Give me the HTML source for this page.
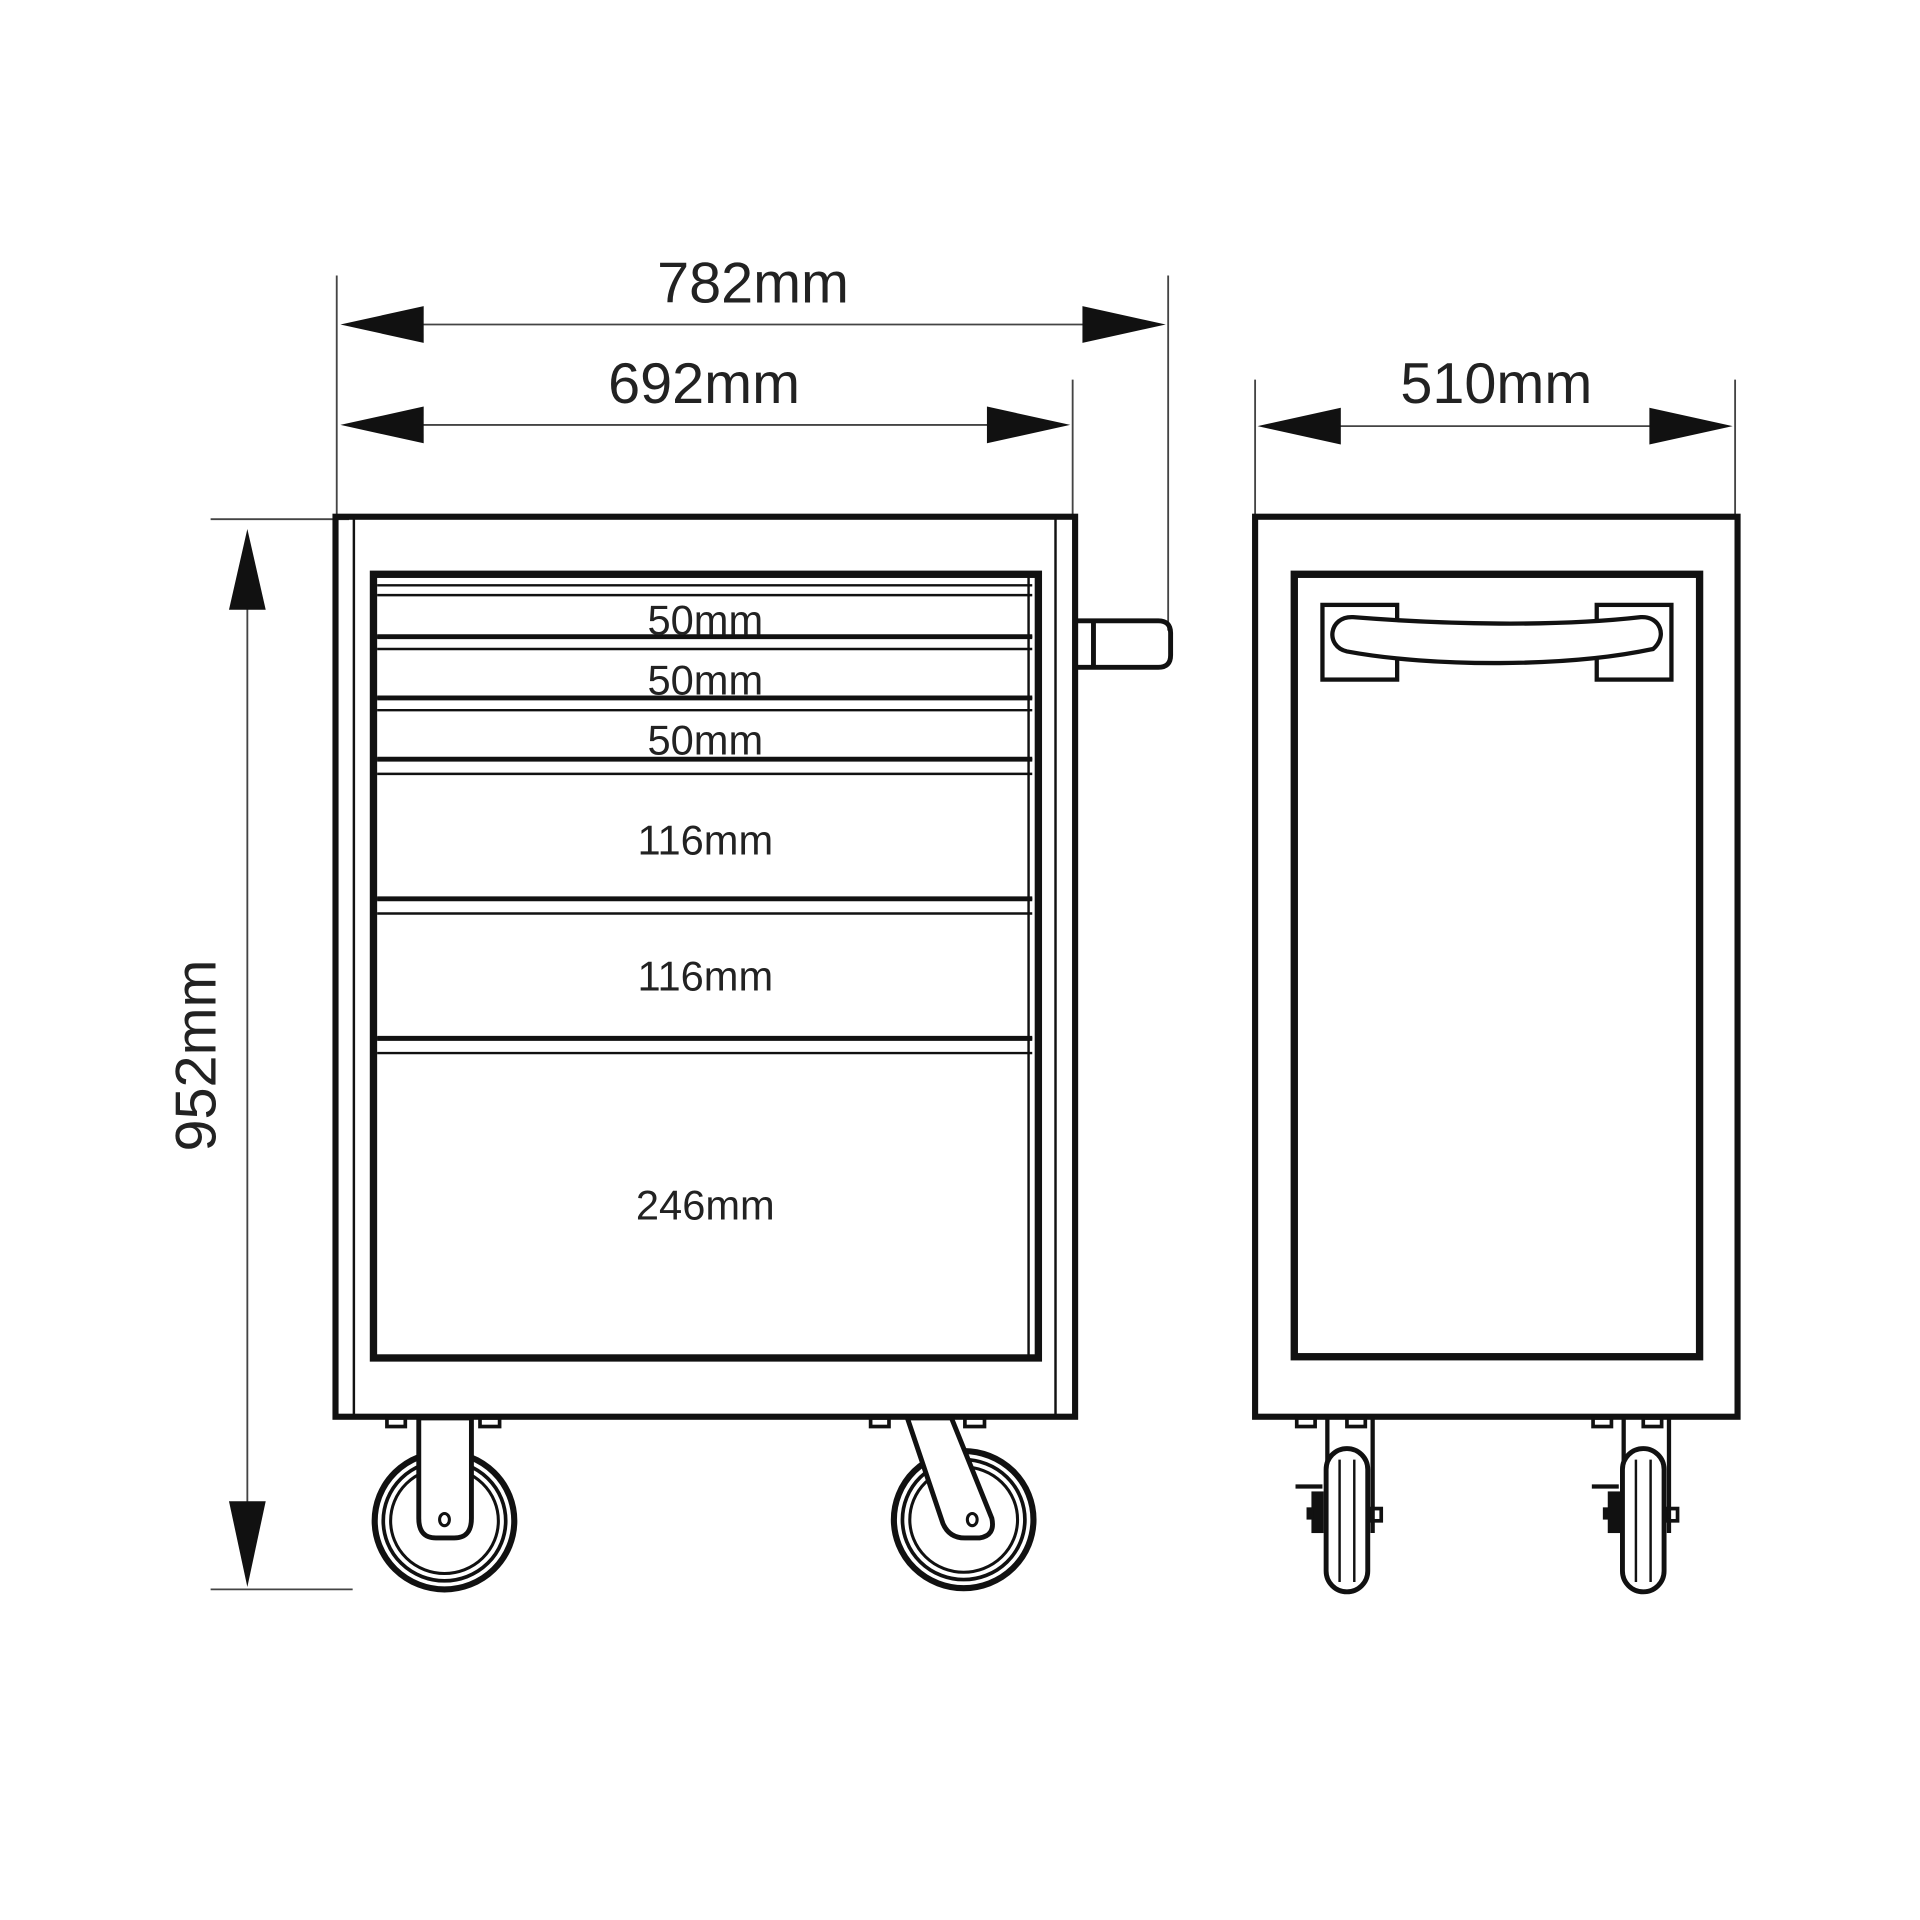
<!DOCTYPE html>
<html><head><meta charset="utf-8"><style>html,body{margin:0;padding:0;background:#fff}svg{display:block}</style></head>
<body>
<svg width="1920" height="1920" viewBox="0 0 1568 1568" xmlns="http://www.w3.org/2000/svg" font-family="Liberation Sans, sans-serif">
<g stroke="#111" fill="none">
<g stroke-width="1.5" stroke="#444">
<line x1="275" y1="225" x2="275" y2="422"/>
<line x1="954" y1="225" x2="954" y2="515"/>
<line x1="876" y1="310" x2="876" y2="422"/>
<line x1="1025" y1="310" x2="1025" y2="422"/>
<line x1="1417" y1="310" x2="1417" y2="422"/>
<line x1="172" y1="424" x2="285" y2="424"/>
<line x1="172" y1="1298" x2="288" y2="1298"/>
<line x1="340" y1="265" x2="890" y2="265"/>
<line x1="340" y1="347" x2="810" y2="347"/>
<line x1="1090" y1="348" x2="1352" y2="348"/>
<line x1="202" y1="495" x2="202" y2="1230"/>
</g>
</g>
<g fill="#111">
<polygon points="278,265 346,250 346,280"/>
<polygon points="952,265 884,250 884,280"/>
<polygon points="278,347 346,332 346,362"/>
<polygon points="874,347 806,332 806,362"/>
<polygon points="1027,348 1095,333 1095,363"/>
<polygon points="1415,348 1347,333 1347,363"/>
<polygon points="202,432 187,498 217,498"/>
<polygon points="202,1296 187,1226 217,1226"/>
</g>
<g fill="#222" font-size="47" text-anchor="middle">
<text x="615" y="247">782mm</text>
<text x="575" y="329">692mm</text>
<text x="1222" y="329">510mm</text>
<text transform="translate(176,862) rotate(-90)">952mm</text>
</g>

<g stroke="#111" fill="none">
<rect x="274" y="422" width="604" height="735" stroke-width="5"/>
<line x1="289" y1="424" x2="289" y2="1155" stroke-width="2"/>
<line x1="862" y1="424" x2="862" y2="1155" stroke-width="2"/>
<rect x="305" y="469" width="543" height="640" stroke-width="6"/>
<line x1="840" y1="470" x2="840" y2="1108" stroke-width="2"/>
<g stroke-width="2">
<line x1="308" y1="478" x2="843" y2="478"/><line x1="308" y1="486" x2="843" y2="486"/>
<line x1="308" y1="570" x2="843" y2="570"/><line x1="308" y1="580" x2="843" y2="580"/>
<line x1="308" y1="620" x2="843" y2="620"/><line x1="308" y1="632" x2="843" y2="632"/>
<line x1="308" y1="734" x2="843" y2="734"/><line x1="308" y1="746" x2="843" y2="746"/>
<line x1="308" y1="848" x2="843" y2="848"/><line x1="308" y1="860" x2="843" y2="860"/>
<line x1="308" y1="520" x2="843" y2="520"/><line x1="308" y1="530" x2="843" y2="530"/>
</g>
<g stroke-width="4">
<line x1="308" y1="520" x2="843" y2="520"/><line x1="308" y1="570" x2="843" y2="570"/>
<line x1="308" y1="620" x2="843" y2="620"/><line x1="308" y1="734" x2="843" y2="734"/>
<line x1="308" y1="848" x2="843" y2="848"/>
</g>
<path d="M880,507 L946,507 Q956,507 956,517 L956,535 Q956,545 946,545 L880,545" stroke-width="4"/>
<line x1="893" y1="508" x2="893" y2="544" stroke-width="4"/>
</g>
<g fill="#222" font-size="34" text-anchor="middle">
<text x="576" y="518">50mm</text>
<text x="576" y="567">50mm</text>
<text x="576" y="616">50mm</text>
<text x="576" y="698">116mm</text>
<text x="576" y="809">116mm</text>
<text x="576" y="996">246mm</text>
</g>

<g stroke="#111" fill="none" stroke-width="3">
<rect x="316" y="1158" width="15" height="7"/><rect x="392" y="1158" width="16" height="7"/>
<rect x="711" y="1158" width="15" height="7"/><rect x="788" y="1158" width="16" height="7"/>
<g stroke-width="5">
<ellipse cx="363" cy="1242" rx="57" ry="56"/>
<ellipse cx="787" cy="1241" rx="57" ry="56"/>
</g>
<ellipse cx="363" cy="1242" rx="50" ry="49" stroke-width="3"/>
<ellipse cx="363" cy="1242" rx="44" ry="43" stroke-width="2.5"/>
<ellipse cx="787" cy="1241" rx="50" ry="49" stroke-width="3"/>
<ellipse cx="787" cy="1241" rx="44" ry="43" stroke-width="2.5"/>
<path d="M342,1158 L342,1240 Q342,1256 356,1256 L371,1256 Q385,1256 385,1240 L385,1158 Z" fill="#fff" stroke-width="4"/>
<ellipse cx="363" cy="1241" rx="4" ry="5" stroke-width="2.5"/>
<path d="M741,1158 L770,1244 Q775,1256 788,1256 L800,1256 Q813,1254 810,1240 L777,1158 Z" fill="#fff" stroke-width="4"/>
<ellipse cx="794" cy="1241" rx="4" ry="5" stroke-width="2.5"/>
</g>

<g stroke="#111" fill="none">
<rect x="1025" y="422" width="394" height="735" stroke-width="5"/>
<rect x="1057" y="469" width="331" height="639" stroke-width="6"/>
<rect x="1080" y="494" width="61" height="61" stroke-width="3.5"/>
<rect x="1304" y="494" width="61" height="61" stroke-width="3.5"/>
<path d="M1105,504 C1180,510 1270,512 1340,504 C1356,503 1362,520 1350,530 C1280,545 1170,545 1100,532 C1082,528 1085,503 1105,504 Z" fill="#fff" stroke-width="3.5"/>
</g>

<g stroke="#111" fill="none" stroke-width="3">
<g>
<rect x="1059" y="1158" width="15" height="7"/><rect x="1100" y="1158" width="15" height="7"/>
<line x1="1084" y1="1158" x2="1084" y2="1240" stroke-width="3.5"/>
<line x1="1121" y1="1158" x2="1121" y2="1252" stroke-width="3.5"/>
<line x1="1058" y1="1214" x2="1080" y2="1214" stroke-width="3.5"/>
<rect x="1071" y="1218" width="10" height="34" fill="#111" stroke="none"/>
<rect x="1067" y="1231" width="6" height="10" fill="#111" stroke="none"/>
<rect x="1118" y="1232" width="10" height="10"/>
<rect x="1083" y="1183" width="34" height="117" rx="17" fill="#fff" stroke-width="4"/>
<line x1="1094" y1="1192" x2="1094" y2="1292" stroke-width="2"/>
<line x1="1106" y1="1192" x2="1106" y2="1292" stroke-width="2"/>
</g>
<g transform="translate(242,0)">
<rect x="1059" y="1158" width="15" height="7"/><rect x="1100" y="1158" width="15" height="7"/>
<line x1="1084" y1="1158" x2="1084" y2="1240" stroke-width="3.5"/>
<line x1="1121" y1="1158" x2="1121" y2="1252" stroke-width="3.5"/>
<line x1="1058" y1="1214" x2="1080" y2="1214" stroke-width="3.5"/>
<rect x="1071" y="1218" width="10" height="34" fill="#111" stroke="none"/>
<rect x="1067" y="1231" width="6" height="10" fill="#111" stroke="none"/>
<rect x="1118" y="1232" width="10" height="10"/>
<rect x="1083" y="1183" width="34" height="117" rx="17" fill="#fff" stroke-width="4"/>
<line x1="1094" y1="1192" x2="1094" y2="1292" stroke-width="2"/>
<line x1="1106" y1="1192" x2="1106" y2="1292" stroke-width="2"/>
</g>
</g>
</svg>
</body></html>
